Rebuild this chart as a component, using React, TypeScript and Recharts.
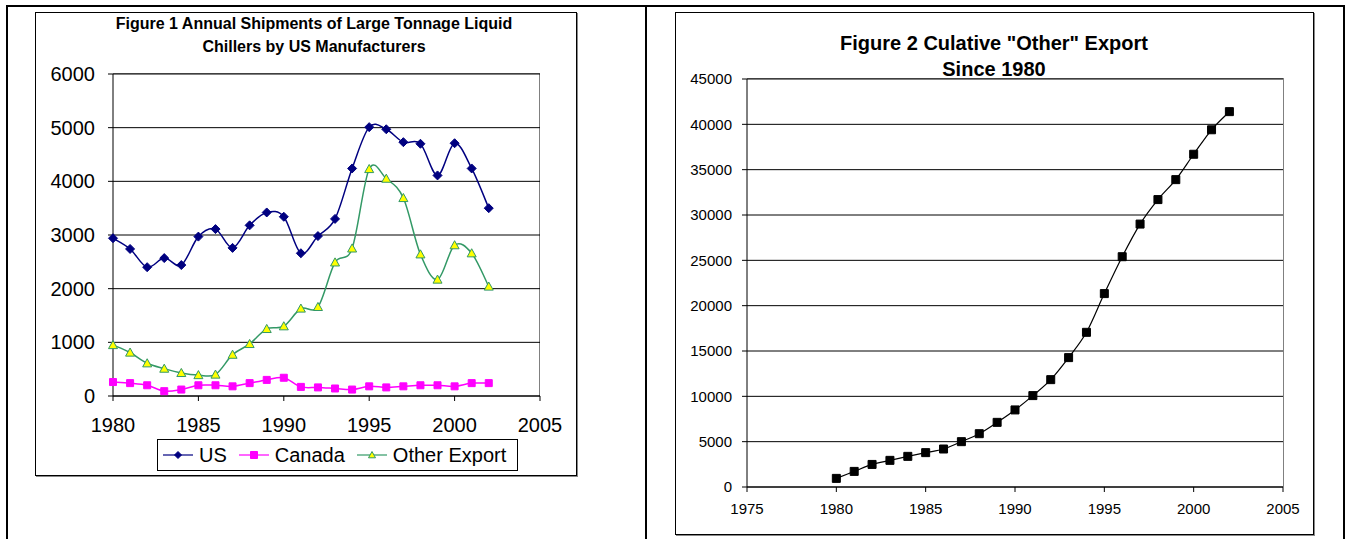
import React from "react";
import { LineChart, Line, XAxis, YAxis, CartesianGrid } from "recharts";

// ---- Data ----
const years = [1980, 1981, 1982, 1983, 1984, 1985, 1986, 1987, 1988, 1989, 1990, 1991, 1992, 1993, 1994, 1995, 1996, 1997, 1998, 1999, 2000, 2001, 2002];
const usValues = [2940, 2740, 2400, 2570, 2440, 2970, 3110, 2760, 3180, 3420, 3340, 2660, 2980, 3300, 4240, 5010, 4970, 4730, 4700, 4110, 4710, 4240, 3500];
const canadaValues = [260, 240, 200, 90, 120, 200, 200, 180, 240, 300, 340, 170, 160, 140, 120, 180, 160, 180, 200, 200, 180, 240, 240];
const otherExportValues = [950, 810, 610, 510, 430, 390, 400, 770, 970, 1250, 1300, 1630, 1660, 2490, 2750, 4230, 4050, 3690, 2640, 2170, 2810, 2660, 2040];
const cumulativeOtherValues = [950, 1720, 2490, 2940, 3380, 3790, 4190, 5000, 5880, 7130, 8500, 10080, 11840, 14270, 17060, 21330, 25400, 29000, 31700, 33900, 36700, 39400, 41400];

const leftXTicks = [1980, 1985, 1990, 1995, 2000, 2005];
const leftYTicks = [0, 1000, 2000, 3000, 4000, 5000, 6000];
const rightXTicks = [1975, 1980, 1985, 1990, 1995, 2000, 2005];
const rightYTicks = [0, 5000, 10000, 15000, 20000, 25000, 30000, 35000, 40000, 45000];

const seriesNames = ["US", "Canada", "Other Export"];
const leftTitle = ["Figure 1 Annual Shipments of Large Tonnage Liquid", "Chillers by US Manufacturers"];
const rightTitle = ['Figure 2 Culative "Other" Export', "Since 1980"];

const leftData = years.map((y, i) => ({
  year: y,
  us: usValues[i],
  canada: canadaValues[i],
  other: otherExportValues[i],
}));
const rightData = years.map((y, i) => ({ year: y, cum: cumulativeOtherValues[i] }));

// Excel-like smoothed curve (Catmull-Rom style bezier)
function excelCurve(context: any) {
  let pts: number[][] = [];
  return {
    areaStart() {},
    areaEnd() {},
    lineStart() {
      pts = [];
    },
    point(x: number, y: number) {
      pts.push([+x, +y]);
    },
    lineEnd() {
      const n = pts.length;
      if (n === 0) return;
      context.moveTo(pts[0][0], pts[0][1]);
      for (let i = 0; i < n - 1; i++) {
        const p0 = pts[Math.max(i - 1, 0)];
        const p1 = pts[i];
        const p2 = pts[i + 1];
        const p3 = pts[Math.min(i + 2, n - 1)];
        const c1x = p1[0] + (p2[0] - p0[0]) / 6;
        const c1y = p1[1] + (p2[1] - p0[1]) / 6;
        const c2x = p2[0] - (p3[0] - p1[0]) / 6;
        const c2y = p2[1] - (p3[1] - p1[1]) / 6;
        context.bezierCurveTo(c1x, c1y, c2x, c2y, p2[0], p2[1]);
      }
    },
  };
}

const US_COLOR = "#000080";
const CANADA_COLOR = "#FF00FF";
const OTHER_LINE = "#339966";
const OTHER_FILL = "#FFFF00";
const BORDER_GRAY = "#808080";

const diamondPath = (cx: number, cy: number, r: number) => `M${cx},${cy - r}L${cx + r},${cy}L${cx},${cy + r}L${cx - r},${cy}Z`;
const squarePath = (cx: number, cy: number, r: number) => `M${cx - r},${cy - r}L${cx + r},${cy - r}L${cx + r},${cy + r}L${cx - r},${cy + r}Z`;
const trianglePath = (cx: number, cy: number, r: number) => `M${cx},${cy - r}L${cx + r},${cy + r * 0.8}L${cx - r},${cy + r * 0.8}Z`;

const usDot = (p: any) => <path key={`us${p.index}`} d={diamondPath(p.cx, p.cy, 4.5)} fill={US_COLOR} stroke={US_COLOR} strokeWidth={1} />;
const caDot = (p: any) => <path key={`ca${p.index}`} d={squarePath(p.cx, p.cy, 3.5)} fill={CANADA_COLOR} stroke={CANADA_COLOR} strokeWidth={1} />;
const otDot = (p: any) => <path key={`ot${p.index}`} d={trianglePath(p.cx, p.cy, 4.5)} fill={OTHER_FILL} stroke={OTHER_LINE} strokeWidth={1} />;
const cumDot = (p: any) => <path key={`cu${p.index}`} d={squarePath(p.cx, p.cy, 4)} fill="#000" stroke="#000" strokeWidth={1} />;

const FONT = '"Liberation Sans", Arial, Helvetica, sans-serif';

const legendItems = [
  { name: seriesNames[0], color: US_COLOR, marker: "diamond" },
  { name: seriesNames[1], color: CANADA_COLOR, marker: "square" },
  { name: seriesNames[2], color: OTHER_LINE, marker: "triangle" },
];

function LegendMarker({ color, marker }: { color: string; marker: string }) {
  let shape;
  if (marker === "diamond") shape = <path d={diamondPath(15, 8, 3.5)} fill={color} stroke={color} />;
  else if (marker === "square") shape = <path d={squarePath(15, 8, 3.5)} fill={color} stroke={color} />;
  else shape = <path d={trianglePath(15, 8, 3.5)} fill={OTHER_FILL} stroke={color} />;
  return (
    <svg width={30} height={16} style={{ display: "block" }}>
      <line x1={0} y1={8} x2={30} y2={8} stroke={color} strokeWidth={1.2} />
      {shape}
    </svg>
  );
}

export default function App() {
  return (
    <div style={{ position: "absolute", left: 0, top: 0, width: 1347, height: 539, background: "#fff", fontFamily: FONT, overflow: "hidden" }}>
      {/* outer frame */}
      <div style={{ position: "absolute", left: 6, top: 5, width: 1339, height: 2, background: "#000" }} />
      <div style={{ position: "absolute", left: 6, top: 5, width: 2, height: 540, background: "#000" }} />
      <div style={{ position: "absolute", left: 645, top: 5, width: 2, height: 540, background: "#000" }} />
      <div style={{ position: "absolute", left: 1343, top: 5, width: 2, height: 540, background: "#000" }} />

      {/* Left chart box */}
      <div style={{ position: "absolute", left: 35, top: 12, width: 540, height: 462, border: "1px solid #000", boxShadow: "1px 1px 0 #888" }} />
      {/* Left plot-area frame (right and top edges) */}
      <div style={{ position: "absolute", left: 113, top: 73, width: 427, height: 323, borderTop: `1px solid ${BORDER_GRAY}`, borderRight: `1px solid ${BORDER_GRAY}`, boxSizing: "border-box" }} />
      <div style={{ position: "absolute", left: 36, top: 13, width: 540, height: 462 }}>
        <LineChart width={540} height={462} data={leftData} margin={{ top: 61, right: 36, bottom: 49, left: 0 }}>
          <CartesianGrid horizontal={true} vertical={false} stroke="#000" strokeWidth={1} />
          <XAxis dataKey="year" type="number" domain={[1980, 2005]} ticks={leftXTicks} interval={0} tickSize={5} tickMargin={17} height={30} stroke="#000" tick={{ fill: "#000", fontSize: 20 }} />
          <YAxis type="number" domain={[0, 6000]} ticks={leftYTicks} interval={0} width={77} tickSize={5} tickMargin={13} stroke="#000" tick={{ fill: "#000", fontSize: 20 }} />
          <Line dataKey="us" name={seriesNames[0]} type={excelCurve as any} stroke={US_COLOR} strokeWidth={1.5} dot={usDot} activeDot={false} isAnimationActive={false} />
          <Line dataKey="canada" name={seriesNames[1]} type={excelCurve as any} stroke={CANADA_COLOR} strokeWidth={1.5} dot={caDot} activeDot={false} isAnimationActive={false} />
          <Line dataKey="other" name={seriesNames[2]} type={excelCurve as any} stroke={OTHER_LINE} strokeWidth={1.5} dot={otDot} activeDot={false} isAnimationActive={false} />
        </LineChart>
      </div>
      <div style={{ position: "absolute", left: 35, top: 12, width: 558, textAlign: "center", fontWeight: "bold", fontSize: 16, lineHeight: "23px", color: "#000" }}>
        <div>{leftTitle[0]}</div>
        <div>{leftTitle[1]}</div>
      </div>
      {/* Legend */}
      <div style={{ position: "absolute", left: 157, top: 439, width: 359, height: 30, border: "1px solid #000", display: "flex", alignItems: "center", fontSize: 20, color: "#000", boxSizing: "content-box" }}>
        <div style={{ width: 5 }} />
        {legendItems.map((it, i) => (
          <div key={it.name} style={{ display: "flex", alignItems: "center", marginRight: i < 2 ? 12 : 0 }}>
            <LegendMarker color={it.color} marker={it.marker} />
            <span style={{ marginLeft: 6, whiteSpace: "nowrap" }}>{it.name}</span>
          </div>
        ))}
      </div>

      {/* Right chart box */}
      <div style={{ position: "absolute", left: 675, top: 12, width: 637, height: 521, border: "1px solid #000", boxShadow: "1px 1px 0 #888" }} />
      {/* Right plot-area frame (right and top edges) */}
      <div style={{ position: "absolute", left: 747, top: 78, width: 537, height: 409, borderTop: `1px solid ${BORDER_GRAY}`, borderRight: `1px solid ${BORDER_GRAY}`, boxSizing: "border-box" }} />
      <div style={{ position: "absolute", left: 676, top: 13, width: 637, height: 521 }}>
        <LineChart width={637} height={521} data={rightData} margin={{ top: 66, right: 30, bottom: 17, left: 0 }}>
          <CartesianGrid horizontal={true} vertical={false} stroke="#000" strokeWidth={1} />
          <XAxis dataKey="year" type="number" domain={[1975, 2005]} ticks={rightXTicks} interval={0} tickSize={5} tickMargin={11} height={30} stroke="#000" tick={{ fill: "#000", fontSize: 15 }} />
          <YAxis type="number" domain={[0, 45000]} ticks={rightYTicks} interval={0} width={71} tickSize={5} tickMargin={10} stroke="#000" tick={{ fill: "#000", fontSize: 15 }} />
          <Line dataKey="cum" name={rightTitle[0]} type={excelCurve as any} stroke="#000" strokeWidth={1.2} dot={cumDot} activeDot={false} isAnimationActive={false} />
        </LineChart>
      </div>
      <div style={{ position: "absolute", left: 675, top: 30, width: 638, textAlign: "center", fontWeight: "bold", fontSize: 20, lineHeight: "26px", color: "#000" }}>
        <div>{rightTitle[0]}</div>
        <div>{rightTitle[1]}</div>
      </div>
    </div>
  );
}
